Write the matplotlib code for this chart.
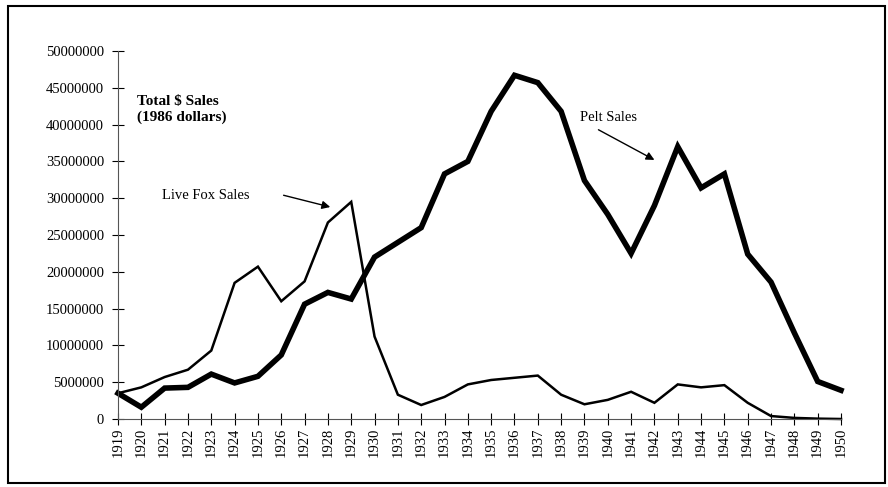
import numpy as np
import matplotlib.pyplot as plt
from matplotlib.patches import Rectangle

plt.rcParams['font.family'] = ['Liberation Serif', 'DejaVu Serif']

years = list(range(1919, 1951))
live_fox = [3.5, 4.3, 5.7, 6.7, 9.3, 18.5, 20.7, 16.0, 18.7, 26.7, 29.5,
            11.2, 3.3, 1.9, 3.0, 4.7, 5.3, 5.6, 5.9, 3.3, 2.0, 2.6, 3.7,
            2.2, 4.7, 4.3, 4.6, 2.2, 0.4, 0.15, 0.05, 0.0]
pelt = [3.5, 1.6, 4.2, 4.3, 6.1, 4.9, 5.8, 8.7, 15.6, 17.2, 16.3, 22.0,
        24.0, 26.0, 33.3, 35.0, 41.8, 46.7, 45.7, 41.8, 32.4, 27.8, 22.5,
        29.0, 37.0, 31.4, 33.3, 22.4, 18.6, 11.7, 5.1, 3.9]
live_fox = np.array(live_fox) * 1e6
pelt = np.array(pelt) * 1e6

W, H = 888, 487
fig = plt.figure(figsize=(W / 100, H / 100), dpi=100)
ax = fig.add_axes([118 / W, (H - 419) / H, (841 - 118) / W, (419 - 51) / H])

ax.plot(years, live_fox, color='black', lw=1.8, solid_joinstyle='miter')
ax.plot(years, pelt, color='black', lw=4, solid_joinstyle='miter')

ax.set_xlim(1919, 1950)
ax.set_ylim(0, 50000000)
ax.set_yticks(np.arange(0, 50000001, 5000000))
ax.set_yticklabels([str(v) for v in range(0, 50000001, 5000000)], fontsize=10.5)
ax.set_xticks(years)
ax.set_xticklabels([str(y) for y in years], rotation=90, fontsize=10.5)
ax.tick_params(axis='both', direction='inout', length=8, width=0.8)
ax.tick_params(axis='y', pad=6)
ax.tick_params(axis='x', pad=2)
for s in ['top', 'right']:
    ax.spines[s].set_visible(False)
for s in ['left', 'bottom']:
    ax.spines[s].set_color('#555555')
    ax.spines[s].set_linewidth(0.8)
for ln in ax.lines:
    ln.set_clip_on(False)

# labels
ax.text(1919.8, 42.1e6, 'Total $ Sales\n(1986 dollars)',
        fontsize=11, fontweight='bold', ha='left', va='center', linespacing=1.25)
ax.text(1920.9, 30.4e6, 'Live Fox Sales', fontsize=10.5, ha='left', va='center')
ax.text(1938.8, 40.9e6, 'Pelt Sales', fontsize=10.5, ha='left', va='center')

# arrows
arrow = dict(arrowstyle='-|>', color='black', lw=1, shrinkA=0, shrinkB=0,
             mutation_scale=12)
ax.annotate('', xy=(1928.1, 28.8e6), xytext=(1926.1, 30.4e6), arrowprops=arrow)
ax.annotate('', xy=(1942.0, 35.2e6), xytext=(1939.6, 39.3e6), arrowprops=arrow)

fig.patches.append(Rectangle((8 / W, 4 / H), (885 - 8) / W, (483 - 6) / H,
                             transform=fig.transFigure, fill=False,
                             edgecolor='black', lw=1.5))

fig.savefig('out.png', dpi=100)
